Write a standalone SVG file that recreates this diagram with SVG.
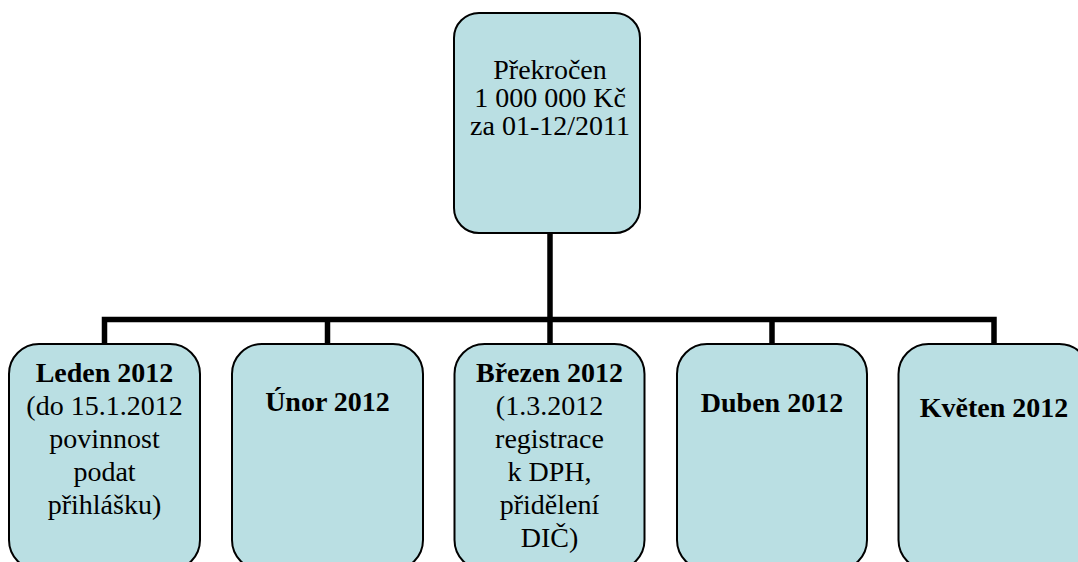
<svg xmlns="http://www.w3.org/2000/svg" width="1078" height="562" viewBox="0 0 1078 562">
<style>
.box{fill:#BADFE3;stroke:#000;stroke-width:2}
.t{font-family:'Liberation Serif','Times New Roman',Times,serif;font-size:28px;fill:#000;text-anchor:middle}
.b{font-weight:bold}
.c{fill:none;stroke:#000;stroke-width:5.5;stroke-linejoin:miter}
</style>
<rect width="1078" height="562" fill="#fff"/>
<g id="connectors">
<path class="c" d="M550,233 V319.5"/>
<path class="c" d="M104.5,344 V319.5 H994 V344"/>
<path class="c" d="M327.5,319.5 V344"/>
<path class="c" d="M550,319.5 V344"/>
<path class="c" d="M772,319.5 V344"/>
</g>
<g id="root">
<rect class="box" x="454" y="13" width="186" height="220" rx="25"/>
<text class="t" x="550" y="78.5">Překročen</text>
<text class="t" x="550" y="106.8">1 000 000 Kč</text>
<text class="t" x="550" y="135">za 01-12/2011</text>
</g>
<g id="leden">
<rect class="box" x="9" y="344" width="191" height="226" rx="30"/>
<text class="t b" x="104.5" y="381.5">Leden 2012</text>
<text class="t" x="104.5" y="414.5">(do 15.1.2012</text>
<text class="t" x="104.5" y="447.5">povinnost</text>
<text class="t" x="104.5" y="480.5">podat</text>
<text class="t" x="104.5" y="513.5">přihlášku)</text>
</g>
<g id="unor">
<rect class="box" x="232" y="344" width="191" height="226" rx="30"/>
<text class="t b" x="327.5" y="410.5">Únor 2012</text>
</g>
<g id="brezen">
<rect class="box" x="454.5" y="344" width="190" height="226" rx="30"/>
<text class="t b" x="549.5" y="381.5">Březen 2012</text>
<text class="t" x="549.5" y="414.5">(1.3.2012</text>
<text class="t" x="549.5" y="447.5">registrace</text>
<text class="t" x="549.5" y="480.5">k DPH,</text>
<text class="t" x="549.5" y="513.5">přidělení</text>
<text class="t" x="549.5" y="546.5">DIČ)</text>
</g>
<g id="duben">
<rect class="box" x="677" y="344" width="190" height="226" rx="30"/>
<text class="t b" x="772" y="411.5">Duben 2012</text>
</g>
<g id="kveten">
<rect class="box" x="898.5" y="344" width="191" height="226" rx="30"/>
<text class="t b" x="994" y="416.5">Květen 2012</text>
</g>
</svg>
